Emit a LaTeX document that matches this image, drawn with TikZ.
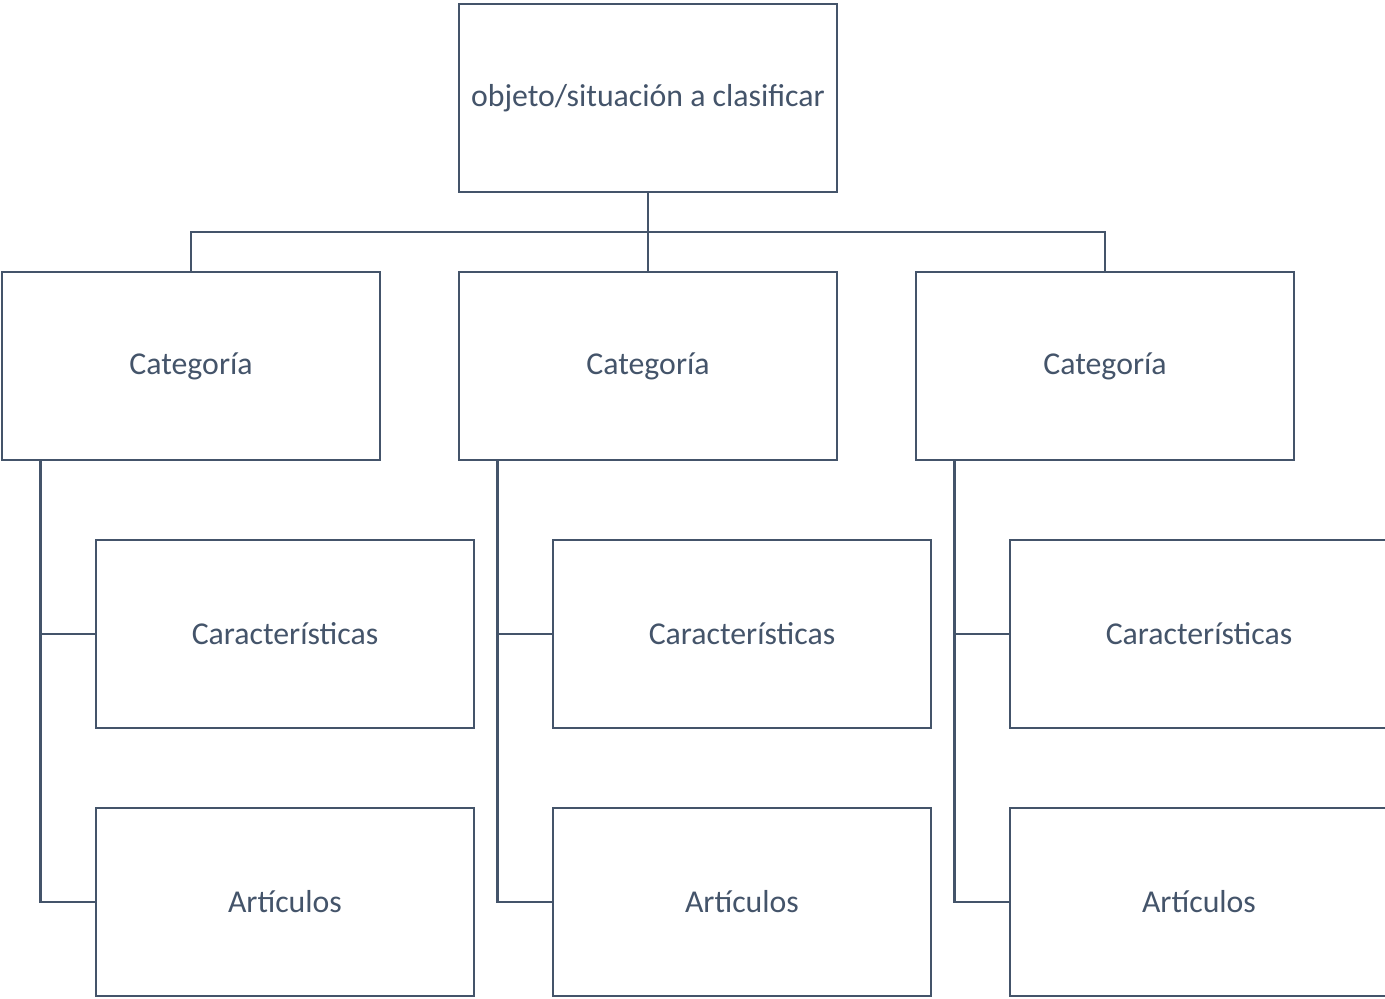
\documentclass[tikz,border=0pt]{standalone}
\usepackage{fontspec}
\setmainfont{Carlito}
\definecolor{slate}{HTML}{44546A}
\tikzset{
  box/.style={draw=slate, line width=2.8pt, fill=white, minimum width=378pt,
    minimum height=188pt, inner sep=0pt, text=slate,
    font=\fontsize{31.8}{36}\selectfont},
  link/.style={draw=slate, line width=2.8pt}
}
\begin{document}
\begin{tikzpicture}[x=1pt, y=-1pt]
  \useasboundingbox (0,0) rectangle (1385,999);
  \clip (0,0) rectangle (1385,999);
  % root
  \node[box] (top) at (648,98) {objeto/situación a clasificar};
  % categories
  \foreach \i/\x in {1/191,2/648,3/1105}{
    \node[box] (cat\i) at (\x,366) {Categoría};
  }
  % children of each category
  \foreach \i/\x in {1/285,2/742,3/1199}{
    \node[box] (car\i) at (\x,634) {Características};
    \node[box] (art\i) at (\x,902) {Artículos};
  }
  % bus from root to categories
  \coordinate (bus) at (648,232);
  \draw[link] (top.south) -- (cat2.north);
  \draw[link] (cat1.north) |- (bus) -| (cat3.north);
  % side rails from each category to its children
  \foreach \i in {1,2,3}{
    \coordinate (rail\i) at ([xshift=39.5pt]cat\i.south west);
    \draw[link] (rail\i) |- (art\i.west);
    \draw[link] (rail\i |- car\i.west) -- (car\i.west);
  }
\end{tikzpicture}
\end{document}
